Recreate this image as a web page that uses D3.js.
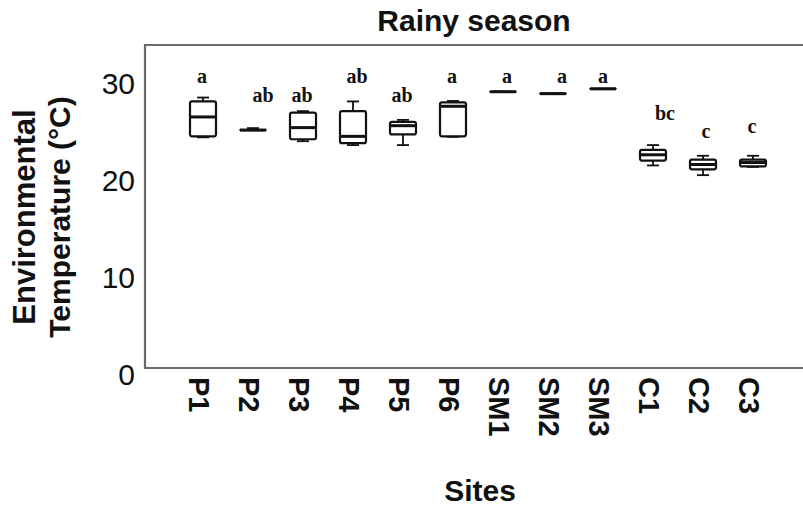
<!DOCTYPE html>
<html><head>
<meta charset="utf-8">
<script src="https://d3js.org/d3.v7.min.js"></script>
<style>
  body { margin: 0; background: #fff; }
  .frame { stroke: #6a6a6a; stroke-width: 2.2px; fill: none; }
  .box { fill: #fff; stroke: #111; stroke-width: 2.2px; }
  .whisker { stroke: #111; stroke-width: 1.8px; }
  .median { stroke: #111; stroke-width: 3px; }
  .ytick { font-family: "Liberation Sans", Arial, sans-serif; font-size: 30px; fill: #111; }
  .xtick { font-family: "Liberation Sans", Arial, sans-serif; font-size: 29px; font-weight: bold; fill: #111; }
  .letter { font-family: "Liberation Serif", "Times New Roman", serif; font-size: 20px; font-weight: bold; fill: #111; }
  .title { font-family: "Liberation Sans", Arial, sans-serif; font-weight: bold; fill: #111; }
</style>
</head>
<body>
<svg id="chart" width="803" height="509"></svg>
<script>
// data
const sites = ["P1","P2","P3","P4","P5","P6","SM1","SM2","SM3","C1","C2","C3"];
const wMin  = [24.4, 25.15, 24.0, 23.6, 23.6, 24.45, 29.1, 28.9, 29.4, 21.5, 20.5, 21.35];
const q1    = [24.5, 25.15, 24.2, 23.8, 24.7, 24.5,  29.1, 28.9, 29.4, 22.0, 21.1, 21.4];
const med   = [26.5, 25.15, 25.4, 24.5, 25.6, 27.6,  29.1, 28.9, 29.4, 22.6, 21.6, 21.8];
const q3    = [28.1, 25.15, 26.95, 27.1, 26.0, 28.0, 29.1, 28.9, 29.4, 23.1, 22.1, 22.1];
const wMax  = [28.5, 25.35, 27.1, 28.1, 26.2, 28.15, 29.1, 28.9, 29.4, 23.6, 22.5, 22.5];
const letters   = ["a","ab","ab","ab","ab","a","a","a","a","bc","c","c"];
const letterVal = [30.0, 28.0, 28.0, 30.0, 28.0, 30.0, 30.0, 30.0, 30.0, 26.2, 24.3, 24.8];
const yTicks = [0, 10, 20, 30];

// small horizontal nudges of the letters (layout only)
const letterDx = [-1, 10, -1, 4, -1, -1, 4, 9, 0, 12, 3, -1];

const svg = d3.select("#chart");
const frame = { left: 145, top: 45, right: 803, bottom: 368 };

const x = d3.scalePoint().domain(sites).range([203, 753]);
const y = d3.scaleLinear().domain([0, 30]).range([374, 83]);
const boxW = 26, capW = 12;

// frame (open on the right)
svg.append("path").attr("class", "frame")
  .attr("d", `M${frame.right},${frame.top}H${frame.left}V${frame.bottom}H${frame.right}`);

// y axis labels, no tick marks
svg.selectAll(".ytick").data(yTicks).enter().append("text")
  .attr("class", "ytick")
  .attr("x", 135).attr("y", d => y(d)).attr("dy", "0.36em")
  .attr("text-anchor", "end")
  .text(d => d);

// x axis labels, rotated
svg.selectAll(".xtick").data(sites).enter().append("text")
  .attr("class", "xtick")
  .attr("transform", d => `translate(${x(d) - 4},377) rotate(90)`)
  .attr("dy", "0.36em")
  .text(d => d);

// boxes
const rows = sites.map((s, i) => ({ s, i }));
const g = svg.selectAll(".site").data(rows).enter().append("g").attr("class", "site");

g.append("line").attr("class", "whisker")
  .attr("x1", d => x(d.s)).attr("x2", d => x(d.s))
  .attr("y1", d => y(wMin[d.i])).attr("y2", d => y(wMax[d.i]));
g.append("line").attr("class", "whisker")
  .attr("x1", d => x(d.s) - capW / 2).attr("x2", d => x(d.s) + capW / 2)
  .attr("y1", d => y(wMax[d.i])).attr("y2", d => y(wMax[d.i]));
g.append("line").attr("class", "whisker")
  .attr("x1", d => x(d.s) - capW / 2).attr("x2", d => x(d.s) + capW / 2)
  .attr("y1", d => y(wMin[d.i])).attr("y2", d => y(wMin[d.i]));
g.append("rect").attr("class", "box")
  .attr("x", d => x(d.s) - boxW / 2).attr("width", boxW)
  .attr("y", d => y(q3[d.i]))
  .attr("height", d => Math.max(0.1, y(q1[d.i]) - y(q3[d.i])))
  .attr("rx", 2);
g.append("line").attr("class", "median")
  .attr("x1", d => x(d.s) - boxW / 2).attr("x2", d => x(d.s) + boxW / 2)
  .attr("y1", d => y(med[d.i])).attr("y2", d => y(med[d.i]));

// significance letters
g.append("text").attr("class", "letter")
  .attr("x", d => x(d.s) + letterDx[d.i])
  .attr("y", d => y(letterVal[d.i]))
  .attr("text-anchor", "middle")
  .text(d => letters[d.i]);

// titles
svg.append("text").attr("class", "title")
  .attr("x", 474).attr("y", 31).attr("text-anchor", "middle")
  .style("font-size", "30px").text("Rainy season");

svg.append("text").attr("class", "title")
  .attr("x", 480).attr("y", 501).attr("text-anchor", "middle")
  .style("font-size", "30px").text("Sites");

const yTitle = svg.append("g").attr("transform", "translate(0,217)");
yTitle.append("text").attr("class", "title")
  .attr("transform", "translate(35,0) rotate(-90)")
  .attr("text-anchor", "middle").style("font-size", "31px")
  .text("Environmental");
yTitle.append("text").attr("class", "title")
  .attr("transform", "translate(70,0) rotate(-90)")
  .attr("text-anchor", "middle").style("font-size", "30px")
  .text("Temperature (°C)");
</script>
</body>
</html>
